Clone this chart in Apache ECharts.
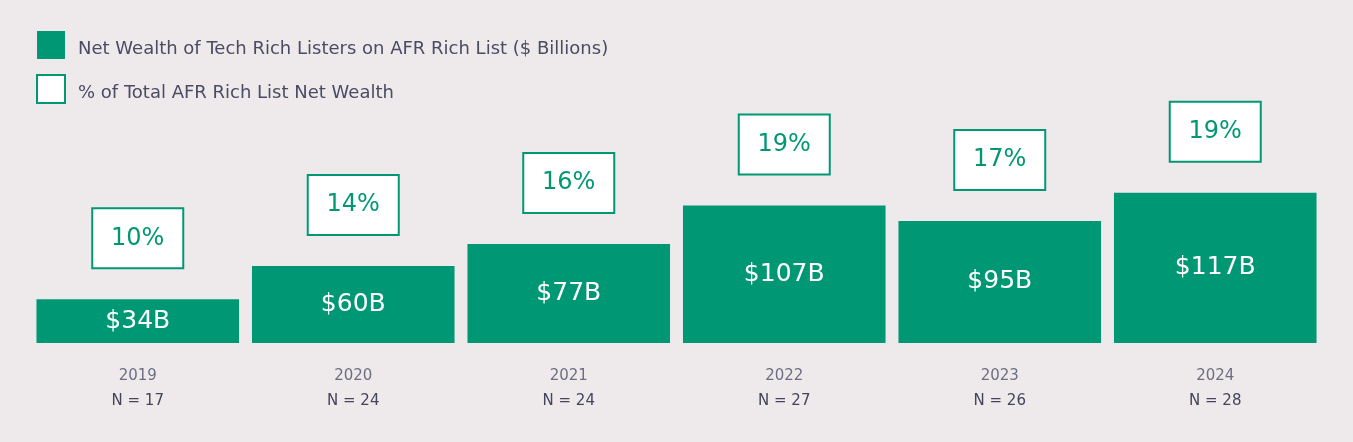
<!DOCTYPE html>
<html><head><meta charset="utf-8">
<style>html,body{margin:0;padding:0;background:#eeeaeb;}#c{width:1353px;height:442px;}</style>
<script src="https://cdn.jsdelivr.net/npm/echarts@6/dist/echarts.min.js"></script>
</head><body><div id="c"></div>
<script>
const years = ['2019','2020','2021','2022','2023','2024'];
const counts = [17, 24, 24, 27, 26, 28];
const wealth = [34, 60, 77, 107, 95, 117];
const share = [10, 14, 16, 19, 17, 19];
const seriesNames = ['Net Wealth of Tech Rich Listers on AFR Rich List ($ Billions)', '% of Total AFR Rich List Net Wealth'];

const green = '#009874';
const font = '"DejaVu Sans", sans-serif';
const chart = echarts.init(document.getElementById('c'));
chart.setOption({
  backgroundColor: '#eeeaeb',
  animation: false,
  legend: {
    orient: 'vertical', left: 36, top: 31, padding: 0, itemWidth: 28, itemHeight: 28, itemGap: 15,
    icon: 'rect',
    formatter: name => '{t|' + name + '}',
    textStyle: { fontFamily: font, fontSize: 18, color: '#4b4b63',
      rich: { t: { fontFamily: font, fontSize: 18, color: '#4b4b63', padding: [8, 0, 0, 8] } } },
    selectedMode: false,
    data: [
      { name: seriesNames[0], itemStyle: { color: green } },
      { name: seriesNames[1], itemStyle: { color: '#ffffff', borderColor: green, borderWidth: 2 } }
    ]
  },
  grid: { left: 30, right: 30, top: 86, bottom: 99 },
  xAxis: {
    type: 'category', data: years,
    axisLine: { show: false }, axisTick: { show: false },
    axisLabel: {
      margin: 20,
      formatter: (v, i) => '{y|' + v + '}\n{n|N = ' + counts[i] + '}',
      rich: {
        y: { fontFamily: font, fontSize: 15, color: '#6e6e82', lineHeight: 26 },
        n: { fontFamily: font, fontSize: 15, color: '#44445a', lineHeight: 24 }
      }
    }
  },
  yAxis: { type: 'value', min: 0, max: 200, show: false, splitLine: { show: false } },
  series: [
    {
      name: seriesNames[0], type: 'bar', data: wealth, barCategoryGap: '6%', barGap: '-100%',
      itemStyle: { color: green },
      label: { show: true, position: 'inside', formatter: p => '$' + p.value + 'B',
        fontFamily: font, fontSize: 25, color: '#ffffff' }
    },
    {
      name: seriesNames[1], type: 'bar', data: wealth, barCategoryGap: '6%', barGap: '-100%',
      itemStyle: { color: 'rgba(0,0,0,0)' },
      label: { show: true, position: ['50%', -61],
        formatter: p => share[p.dataIndex] + '%',
        fontFamily: font, fontSize: 24, color: green,
        backgroundColor: '#ffffff', borderColor: green, borderWidth: 2,
        width: 89, height: 58, lineHeight: 58, align: 'center', verticalAlign: 'middle' }
    }
  ]
});
</script></body></html>
